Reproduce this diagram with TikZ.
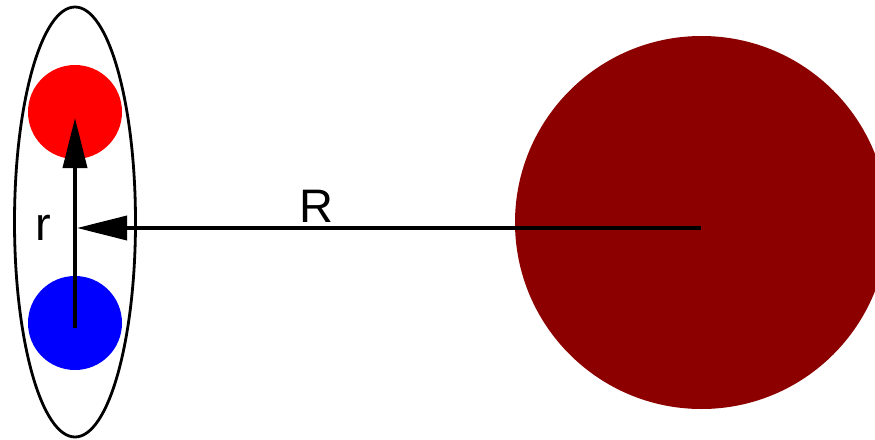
\documentclass[tikz,border=0pt]{standalone}
\usepackage{fontspec}
\setmainfont{Liberation Sans}
\usetikzlibrary{arrows.meta, shapes.geometric}
\definecolor{earthred}{RGB}{140, 0, 0}

\begin{document}
\begin{tikzpicture}[
  x=1pt, y=-1pt,
  every node/.style={inner sep=0pt, outer sep=0pt},
  charge/.style={circle, minimum size=94pt},
  arr/.style={-{Triangle[length=50pt, width=24pt]}, line width=3.6pt},
  lbl/.style={font=\fontsize{47}{50}\selectfont}
]
  \clip (0,0) rectangle (875,439);
  \useasboundingbox (0,0) rectangle (875,439);

  % Dipole
  \node[draw, ellipse, line width=2.8pt, minimum width=121pt, minimum height=430pt] (dipole) at (75, 222) {};
  \node[charge, fill=red]  (plus)  at (75, 112) {};
  \node[charge, fill=blue] (minus) at (75, 323) {};

  % Central body
  \node[circle, fill=earthred, minimum size=373pt] (body) at (701.5, 222.5) {};

  % Arrows
  \coordinate (rstart) at (75, 328);
  \coordinate (rend)   at (75, 118);
  \coordinate (Rstart) at (701, 228);
  \coordinate (Rend)   at (77, 228);
  \draw[arr] (rstart) -- (rend);
  \draw[arr] (Rstart) -- (Rend);

  % Labels
  \node[lbl] (rlabel) at (43, 228)  {r};
  \node[lbl] (Rlabel) at (316, 206) {R};
\end{tikzpicture}
\end{document}
